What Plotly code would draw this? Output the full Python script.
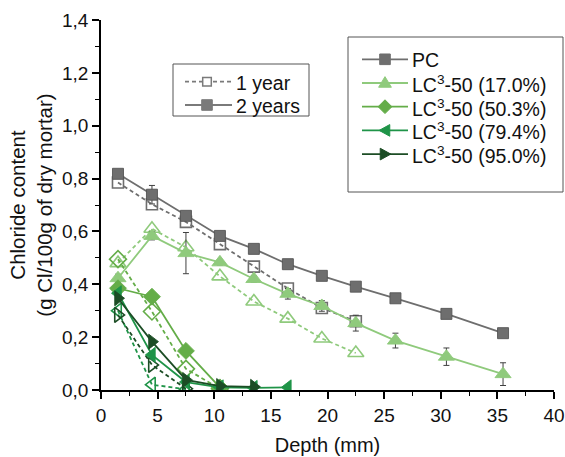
import plotly.graph_objects as go

# ---------------- data ----------------
depth_2y = [1.5, 4.5, 7.5, 10.5, 13.5, 16.5, 19.5, 22.5, 26, 30.5, 35.5]
depth_1y = [1.5, 4.5, 7.5, 10.5, 13.5, 16.5, 19.5, 22.5]

pc_2y = [0.818, 0.739, 0.659, 0.583, 0.534, 0.476, 0.432, 0.391, 0.347, 0.288, 0.215]
pc_2y_err = [0.012, 0.035, 0.015, 0.012, 0.012, 0.010, 0.008, 0.012, 0.008, 0.008, 0.008]
pc_1y = [0.785, 0.703, 0.636, 0.552, 0.467, 0.384, 0.310, 0.260]

lc17_2y = [0.423, 0.583, 0.518, 0.483, 0.420, 0.364, 0.318, 0.253, 0.187, 0.126, 0.060]
lc17_2y_err = [0.015, 0.015, 0.078, 0.010, 0.012, 0.020, 0.020, 0.030, 0.028, 0.033, 0.043]
lc17_1y = [0.48, 0.61, 0.54, 0.43, 0.335, 0.27, 0.195, 0.14]

depth_503 = [1.5, 4.5, 7.5, 10.5]
lc503_2y = [0.385, 0.353, 0.148, 0.010]
lc503_1y = [0.495, 0.297, 0.080, 0.005]

depth_794_2y = [1.5, 4.5, 7.5, 10.5, 13.5, 16.5]
lc794_2y = [0.366, 0.133, 0.030, 0.010, 0.008, 0.010]
depth_794_1y = [1.5, 4.5, 7.5]
lc794_1y = [0.300, 0.020, 0.003]

depth_950_2y = [1.5, 4.5, 7.5, 10.5, 13.5]
lc950_2y = [0.347, 0.183, 0.038, 0.015, 0.012]
depth_950_1y = [1.5, 4.5, 7.5]
lc950_1y = [0.284, 0.095, 0.005]

x_ticks = [0, 5, 10, 15, 20, 25, 30, 35, 40]
y_ticks = [0.0, 0.2, 0.4, 0.6, 0.8, 1.0, 1.2, 1.4]

series_names = ["PC", "LC<sup>3</sup>-50 (17.0%)", "LC<sup>3</sup>-50 (50.3%)",
                "LC<sup>3</sup>-50 (79.4%)", "LC<sup>3</sup>-50 (95.0%)"]
age_names = ["1 year", "2 years"]

C_PC = "#6e6e6e"
C17 = "#8fca7c"
C503 = "#64ad48"
C794 = "#1f9448"
C950 = "#1c4d25"

fig = go.Figure()

def add(x, y, color, symbol, dashed, size, err=None, edge=None):
    marker = dict(symbol=symbol, size=size, color=color)
    if not symbol.endswith("-open"):
        marker["line"] = dict(width=0.9, color=edge or color)
    else:
        marker["line"] = dict(width=1.6, color=color)
    kw = {}
    if err is not None:
        kw["error_y"] = dict(type="data", array=err, visible=True,
                             color="#404040", thickness=1, width=3)
    fig.add_trace(go.Scatter(
        x=x, y=y, mode="lines+markers",
        line=dict(color=color, width=1.8, dash="4px,3px" if dashed else "solid"),
        marker=marker, showlegend=False, **kw))

# 1 year (dashed, open)
add(depth_1y, pc_1y, C_PC, "square-open", True, 11)
add(depth_1y, lc17_1y, C17, "triangle-up-open", True, 14)
add(depth_503, lc503_1y, C503, "diamond-open", True, 13)
add(depth_794_1y, lc794_1y, C794, "triangle-left-open", True, 13)
add(depth_950_1y, lc950_1y, C950, "triangle-right-open", True, 13)
# 2 years (solid, filled)
add(depth_2y, pc_2y, C_PC, "square", False, 11, pc_2y_err, edge="#555555")
add(depth_2y, lc17_2y, C17, "triangle-up", False, 14, lc17_2y_err)
add(depth_503, lc503_2y, C503, "diamond", False, 13)
add(depth_794_2y, lc794_2y, C794, "triangle-left", False, 13)
add(depth_950_2y, lc950_2y, C950, "triangle-right", False, 13)

# ---------------- manual legends (layout in pixels -> paper) ----------------
W, H = 565, 457
ML, MR, MT, MB = 101, 11, 20, 67
PW, PH = W - ML - MR, H - MT - MB

def px(x):
    return (x - ML) / PW

def py(y):
    return (H - MB - y) / PH

shapes = []
annotations = []

def sym_path(kind, cx, cy, h):
    if kind == "square":
        pts = [(cx - h, cy - h), (cx + h, cy - h), (cx + h, cy + h), (cx - h, cy + h)]
    elif kind == "triangle-up":
        pts = [(cx, cy - 1.2 * h), (cx + 1.2 * h, cy + 0.8 * h), (cx - 1.2 * h, cy + 0.8 * h)]
    elif kind == "diamond":
        pts = [(cx, cy - 1.3 * h), (cx + 1.3 * h, cy), (cx, cy + 1.3 * h), (cx - 1.3 * h, cy)]
    elif kind == "triangle-left":
        pts = [(cx - 1.1 * h, cy), (cx + 0.9 * h, cy - 1.1 * h), (cx + 0.9 * h, cy + 1.1 * h)]
    else:  # triangle-right
        pts = [(cx + 1.1 * h, cy), (cx - 0.9 * h, cy - 1.1 * h), (cx - 0.9 * h, cy + 1.1 * h)]
    s = "M " + " L ".join(f"{px(a):.5f},{py(b):.5f}" for a, b in pts) + " Z"
    return s

def legend_row(x_line0, x_line1, x_mark, x_text, y, color, kind, dash, filled,
               text, h, fsize):
    shapes.append(dict(type="line", xref="paper", yref="paper",
                       x0=px(x_line0), x1=px(x_line1), y0=py(y), y1=py(y),
                       line=dict(color=color, width=1.8, dash=dash), layer="above"))
    shapes.append(dict(type="path", xref="paper", yref="paper",
                       path=sym_path(kind, x_mark, y, h),
                       fillcolor=color if filled else "white",
                       line=dict(color=color, width=1.0 if filled else 1.5),
                       layer="above"))
    annotations.append(dict(text=text, xref="paper", yref="paper",
                            x=px(x_text), y=py(y + 1), xanchor="left",
                            yanchor="middle", showarrow=False,
                            font=dict(size=fsize, color="#111")))

# legend 1: line styles
shapes.append(dict(type="rect", xref="paper", yref="paper",
                   x0=px(173), x1=px(309), y0=py(116), y1=py(64),
                   line=dict(color="#555", width=1), fillcolor="white", layer="above"))
legend_row(185, 232, 207, 234, 81.7, "#7a7a7a", "square", "4px,3px", False,
           age_names[0], 4.3, 19.5)
legend_row(185, 232, 207, 234, 105, "#7a7a7a", "square", "solid", True,
           age_names[1], 5.3, 19.5)

# legend 2: materials
shapes.append(dict(type="rect", xref="paper", yref="paper",
                   x0=px(348), x1=px(563), y0=py(192), y1=py(37),
                   line=dict(color="#555", width=1), fillcolor="white", layer="above"))
leg_colors = [C_PC, C17, C503, C794, C950]
leg_kinds = ["square", "triangle-up", "diamond", "triangle-left", "triangle-right"]
for i, (nm, col, kd) in enumerate(zip(series_names, leg_colors, leg_kinds)):
    legend_row(362, 408, 385, 410, 59.3 + 23.7 * i, col, kd, "solid", True,
               nm, 5.3, 19.5)

axis_common = dict(showline=True, linecolor="black", linewidth=1.5,
                   ticks="outside", ticklen=7, tickwidth=1.5, tickcolor="black",
                   showgrid=False, zeroline=False, mirror=False, automargin=False,
                   tickfont=dict(size=19, color="#111"))

fig.update_layout(
    width=W, height=H,
    margin=dict(l=ML, r=MR, t=MT, b=MB, autoexpand=False),
    paper_bgcolor="white", plot_bgcolor="white",
    font=dict(family="Liberation Sans, Arial, sans-serif", size=19, color="#111"),
    separators=",.",
    showlegend=False,
    shapes=shapes,
    annotations=annotations,
    xaxis=dict(range=[0, 40], tickvals=x_ticks,
               title=dict(text="Depth (mm)", font=dict(size=20), standoff=13),
               minor=dict(ticks="outside", ticklen=4, tickwidth=1.2,
                          tickcolor="black", dtick=2.5, tick0=0),
               **axis_common),
    yaxis=dict(range=[0, 1.4], tickvals=y_ticks, tickformat=".1f",
               title=dict(text="Chloride content<br>(g Cl/100g of dry mortar)",
                          font=dict(size=20.5), standoff=4),
               minor=dict(ticks="outside", ticklen=4, tickwidth=1.2,
                          tickcolor="black", dtick=0.1, tick0=0),
               **axis_common),
)

fig.write_html("out.html")
